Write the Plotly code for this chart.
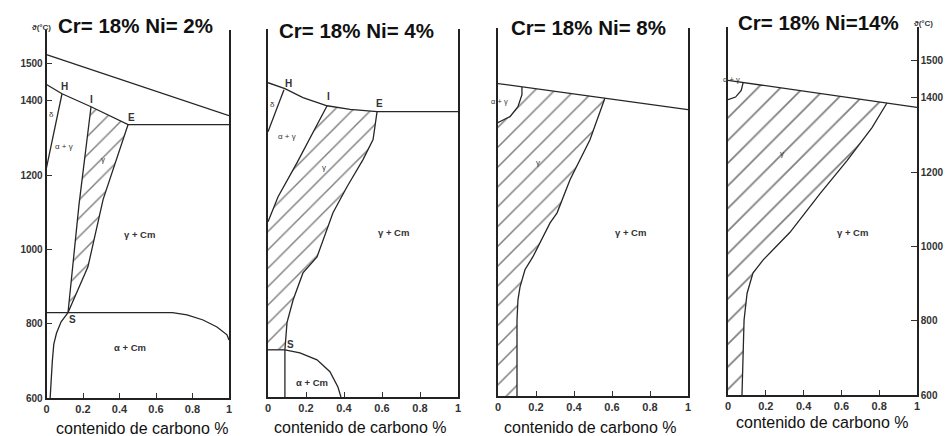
import plotly.graph_objects as go

# ---------------- data (carbon content %, temperature °C) ----------------
x_tick_vals = [0, 0.2, 0.4, 0.6, 0.8, 1]
x_tick_text = ["0", "0.2", "0.4", "0.6", "0.8", "1"]
y_tick_vals = [600, 800, 1000, 1200, 1400, 1500]
y_tick_text = ["600", "800", "1000", "1200", "1400", "1500"]
titles = ["Cr= 18% Ni= 2%", "Cr= 18% Ni= 4%", "Cr= 18% Ni= 8%", "Cr= 18% Ni=14%"]
x_title = "contenido de carbono %"
y_title = "ϑ(°C)"

# Panel 1: Ni = 2 %
p1_liq_c = [0, 1]
p1_liq_t = [1524, 1360]
p1_sol_c = [0, 0.085, 0.244, 0.447, 1]
p1_sol_t = [1444, 1419, 1384, 1336, 1336]
p1_delta_c = [0.085, 0]
p1_delta_t = [1419, 1220]
p1_gl_c = [0.244, 0.178, 0.118]
p1_gl_t = [1384, 1120, 830]
p1_gr_c = [0.447, 0.31, 0.227, 0.118]
p1_gr_t = [1336, 1134, 953, 830]
p1_al_c = [0.118, 0.08, 0.055, 0.04, 0.032, 0.026, 0.02]
p1_al_t = [830, 805, 775, 745, 700, 650, 600]
p1_eu_c = [0, 0.69, 0.77, 0.858, 0.934, 0.989, 1]
p1_eu_t = [830, 830, 824, 810, 791, 770, 756]

# Panel 2: Ni = 4 %
p2_sol_c = [0, 0.089, 0.184, 0.311, 0.432, 0.574, 1]
p2_sol_t = [1446, 1430, 1406, 1384, 1374, 1368, 1368]
p2_delta_c = [0.084, 0]
p2_delta_t = [1427, 1314]
p2_gl_c = [0.311, 0.153, 0.053, 0]
p2_gl_t = [1384, 1231, 1139, 1072]
p2_gr_c = [0.574, 0.553, 0.5, 0.416, 0.342, 0.258, 0.184, 0.132, 0.1, 0.089]
p2_gr_t = [1368, 1293, 1239, 1166, 1096, 977, 934, 861, 800, 727]
p2_s_c = [0, 0.089]
p2_s_t = [727, 727]
p2_vert_c = [0.089, 0.089]
p2_vert_t = [727, 600]
p2_acm_c = [0.089, 0.168, 0.258, 0.326, 0.368, 0.384]
p2_acm_t = [727, 719, 700, 668, 627, 600]

# Panel 3: Ni = 8 %
p3_sol_c = [0, 1]
p3_sol_t = [1441, 1371]
p3_arc_c = [0.126, 0.126, 0.105, 0.063, 0.011, 0]
p3_arc_t = [1432, 1411, 1379, 1352, 1339, 1336]
p3_gr_c = [0.563, 0.484, 0.379, 0.311, 0.274, 0.184, 0.142, 0.116, 0.105, 0.1, 0.1]
p3_gr_t = [1402, 1290, 1182, 1093, 1066, 975, 940, 894, 859, 805, 600]

# Panel 4: Ni = 14 %
p4_sol_c = [0, 1]
p4_sol_t = [1447, 1374]
p4_arc_c = [0.08, 0.07, 0.04, 0]
p4_arc_t = [1441, 1420, 1402, 1395]
p4_gr_c = [0.841, 0.762, 0.63, 0.487, 0.328, 0.185, 0.132, 0.101, 0.085, 0.079, 0.074]
p4_gr_t = [1386, 1320, 1231, 1142, 1038, 963, 928, 874, 802, 700, 600]

# phase labels: (panel, text, c, T, size)
phase_labels = [
    (1, "H", 0.101, 1438, 10), (1, "I", 0.249, 1403, 10), (1, "E", 0.463, 1355, 10),
    (1, "S", 0.145, 810, 10), (1, "δ", 0.025, 1363, 8), (1, "α + γ", 0.096, 1277, 8),
    (1, "γ", 0.31, 1241, 8), (1, "γ + Cm", 0.512, 1039, 9.5), (1, "α + Cm", 0.458, 737, 9.5),
    (2, "H", 0.11, 1444, 10), (2, "I", 0.316, 1409, 10), (2, "E", 0.589, 1390, 10),
    (2, "S", 0.116, 740, 10), (2, "δ", 0.026, 1387, 8), (2, "α + γ", 0.1, 1301, 8),
    (2, "γ", 0.295, 1217, 8), (2, "γ + Cm", 0.658, 1042, 9.5), (2, "α + Cm", 0.232, 640, 9.5),
    (3, "α + γ", 0.01, 1392, 7.5), (3, "γ", 0.21, 1228, 8), (3, "γ + Cm", 0.695, 1039, 9.5),
    (4, "α + γ", 0.02, 1449, 7.5), (4, "γ", 0.286, 1250, 8), (4, "γ + Cm", 0.661, 1038, 9.5),
]

# ---------------- layout geometry (pixels) ----------------
W, H = 949, 436
panel_x0 = [46.5, 268, 498, 728]
panel_x1 = [229, 458, 688, 917]
panel_bottom = [398, 397, 396, 395]
hatch_size = [13, 13, 14, 16]
px_per_deg = 0.3715
y_range = [600, 1590]
title_pos = [(135, 26), (356, 30), (588, 27), (818, 22)]
xtitle_pos = [(142, 428), (360, 427), (590, 427), (822, 422)]

LINE = dict(color="#262626", width=1.3)
FONT = "Liberation Sans, Arial, sans-serif"

fig = go.Figure()


def add_line(i, c, t):
    fig.add_trace(go.Scatter(x=c, y=t, mode="lines", line=LINE,
                             xaxis=f"x{i}", yaxis=f"y{i}",
                             hoverinfo="skip", showlegend=False))


def add_hatch(i, c, t):
    fig.add_trace(go.Scatter(x=c, y=t, mode="none", fill="toself",
                             fillcolor="rgba(0,0,0,0)",
                             fillpattern=dict(shape="/", size=hatch_size[i - 1], solidity=0.11,
                                              fgcolor="#000000",
                                              bgcolor="rgba(0,0,0,0)"),
                             xaxis=f"x{i}", yaxis=f"y{i}",
                             hoverinfo="skip", showlegend=False))


# hatched gamma regions
add_hatch(1, p1_sol_c[2:4] + p1_gr_c[1:] + p1_gl_c[::-1][1:],
          p1_sol_t[2:4] + p1_gr_t[1:] + p1_gl_t[::-1][1:])
add_hatch(2, p2_sol_c[3:6] + p2_gr_c[1:] + [p2_s_c[0]] + p2_gl_c[::-1],
          p2_sol_t[3:6] + p2_gr_t[1:] + [p2_s_t[0]] + p2_gl_t[::-1])
add_hatch(3, p3_arc_c[::-1] + p3_gr_c + [0],
          p3_arc_t[::-1] + p3_gr_t + [600])
add_hatch(4, p4_arc_c[::-1] + p4_gr_c + [0],
          p4_arc_t[::-1] + p4_gr_t + [600])

# boundary lines
for c, t in [(p1_liq_c, p1_liq_t), (p1_sol_c, p1_sol_t), (p1_delta_c, p1_delta_t),
             (p1_gl_c, p1_gl_t), (p1_gr_c, p1_gr_t), (p1_al_c, p1_al_t), (p1_eu_c, p1_eu_t)]:
    add_line(1, c, t)
for c, t in [(p2_sol_c, p2_sol_t), (p2_delta_c, p2_delta_t), (p2_gl_c, p2_gl_t),
             (p2_gr_c, p2_gr_t), (p2_s_c, p2_s_t), (p2_vert_c, p2_vert_t), (p2_acm_c, p2_acm_t)]:
    add_line(2, c, t)
for c, t in [(p3_sol_c, p3_sol_t), (p3_arc_c, p3_arc_t), (p3_gr_c, p3_gr_t)]:
    add_line(3, c, t)
for c, t in [(p4_sol_c, p4_sol_t), (p4_arc_c, p4_arc_t), (p4_gr_c, p4_gr_t)]:
    add_line(4, c, t)

layout = dict(
    width=W, height=H, margin=dict(l=0, r=0, t=0, b=0),
    paper_bgcolor="white", plot_bgcolor="white", showlegend=False,
    font=dict(family=FONT, color="#222"),
)
annotations = []
for k in range(4):
    i = k + 1
    sfx = "" if i == 1 else str(i)
    top = panel_bottom[k] - (y_range[1] - y_range[0]) * px_per_deg
    layout[f"xaxis{sfx}"] = dict(
        domain=[panel_x0[k] / W, panel_x1[k] / W], range=[0, 1],
        anchor=f"y{i}", showgrid=False, zeroline=False,
        showline=True, linecolor="#222", linewidth=1.6, mirror=False,
        tickvals=x_tick_vals, ticktext=x_tick_text, ticks="inside",
        ticklen=5, tickwidth=1.3, tickcolor="#333",
        tickfont=dict(size=11, color="#333", family=FONT, weight="bold"),
        fixedrange=True, automargin=False,
    )
    ya = dict(
        domain=[1 - panel_bottom[k] / H, 1 - top / H], range=y_range,
        anchor=f"x{i}", showgrid=False, zeroline=False,
        showline=True, linecolor="#222", linewidth=1.6, mirror=True,
        fixedrange=True, automargin=False,
    )
    if i == 1 or i == 4:
        ya.update(tickvals=y_tick_vals, ticktext=y_tick_text, ticks="inside",
                  ticklen=6, tickwidth=1.2, tickcolor="#333",
                  tickfont=dict(size=10, color="#333", family=FONT, weight="bold"),
                  side="left" if i == 1 else "right")
    else:
        ya.update(showticklabels=False, ticks="")
    layout[f"yaxis{sfx}"] = ya

    tx, ty = title_pos[k]
    annotations.append(dict(text=titles[k], x=tx / W, y=1 - ty / H, xref="paper", yref="paper",
                            showarrow=False, xanchor="center", yanchor="middle",
                            font=dict(size=20.5, color="#111", family=FONT, weight="bold")))
    ax_, ay_ = xtitle_pos[k]
    annotations.append(dict(text=x_title, x=ax_ / W, y=1 - ay_ / H, xref="paper", yref="paper",
                            showarrow=False, xanchor="center", yanchor="middle",
                            font=dict(size=16, color="#111", family=FONT)))

annotations.append(dict(text=y_title, x=30 / W, y=1 - 21 / H, xref="paper", yref="paper",
                        showarrow=False, font=dict(size=8, color="#333", family=FONT, weight="bold")))
annotations.append(dict(text=y_title, x=935 / W, y=1 - 17 / H, xref="paper", yref="paper",
                        showarrow=False, font=dict(size=8, color="#333", family=FONT, weight="bold")))

for p, txt, c, t, s in phase_labels:
    bold = txt in ("H", "I", "E", "S") or "Cm" in txt
    annotations.append(dict(text=txt, x=c, y=t, xref=f"x{p}", yref=f"y{p}",
                            showarrow=False, xanchor="center", yanchor="middle",
                            font=dict(size=s, color="#333", family=FONT,
                                      weight="bold" if bold else "normal")))

layout["annotations"] = annotations
fig.update_layout(**layout)
fig.write_html("out.html", config={"displayModeBar": False},
               post_script="document.body.style.margin='0';document.body.style.padding='0';")
